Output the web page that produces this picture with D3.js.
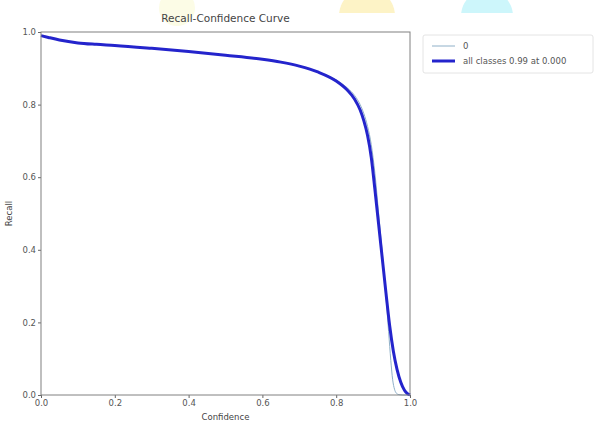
<!DOCTYPE html>
<html><head><meta charset="utf-8">
<script src="https://cdn.jsdelivr.net/npm/d3@7/dist/d3.min.js"></script>
<style>body{margin:0;background:#fff;}svg{display:block;font-family:"DejaVu Sans",sans-serif;}</style>
</head><body>
<script>
const confAll = [0,0.02,0.05,0.1,0.15,0.2,0.3,0.4,0.5,0.6,0.65,0.7,0.75,0.8,0.83,0.85,0.865,0.875,0.885,0.895,0.905,0.915,0.925,0.935,0.945,0.955,0.965,0.975,0.985,0.993,1.0];
const recallAll = [0.99,0.985,0.978,0.97,0.966,0.963,0.955,0.946,0.936,0.925,0.917,0.906,0.89,0.865,0.84,0.815,0.785,0.755,0.715,0.655,0.565,0.47,0.375,0.28,0.19,0.12,0.07,0.035,0.013,0.004,0];
const conf0 = [0,0.02,0.05,0.1,0.15,0.2,0.3,0.4,0.5,0.6,0.65,0.7,0.75,0.8,0.83,0.85,0.865,0.875,0.885,0.895,0.905,0.915,0.925,0.935,0.942,0.948,0.953,0.958,0.963,0.97,0.98,1.0];
const recall0 = [0.99,0.985,0.978,0.97,0.966,0.963,0.955,0.946,0.936,0.925,0.917,0.906,0.89,0.868,0.846,0.825,0.8,0.775,0.74,0.69,0.61,0.5,0.39,0.27,0.175,0.095,0.042,0.016,0.005,0.001,0,0];
const xTicks = [0,0.2,0.4,0.6,0.8,1.0];
const yTicks = [0,0.2,0.4,0.6,0.8,1.0];
const legendLabels = ["0","all classes 0.99 at 0.000"];

const W=595,H=423;
const svg=d3.select("body").append("svg").attr("width",W).attr("height",H);
svg.append("defs").append("clipPath").attr("id","topclip").append("rect").attr("x",0).attr("y",0).attr("width",W).attr("height",13);
svg.append("circle").attr("cx",177).attr("cy",8).attr("r",18).attr("fill","#fcfce6");
svg.append("circle").attr("cx",367).attr("cy",16).attr("r",28).attr("fill","#fdf3c6").attr("clip-path","url(#topclip)");
svg.append("circle").attr("cx",487).attr("cy",16).attr("r",26).attr("fill","#cdf6fb").attr("clip-path","url(#topclip)");

const x=d3.scaleLinear().domain([0,1]).range([41,410]);
const y=d3.scaleLinear().domain([0,1]).range([395,32]);

const tickColor="#666";
const xa=svg.append("g").attr("transform","translate(0,395)").call(d3.axisBottom(x).tickValues(xTicks).tickFormat(d3.format(".1f")).tickSize(3).tickPadding(2));
const ya=svg.append("g").attr("transform","translate(41,0)").call(d3.axisLeft(y).tickValues(yTicks).tickFormat(d3.format(".1f")).tickSize(3).tickPadding(2));
[xa,ya].forEach(a=>{a.select(".domain").remove();a.selectAll("line").attr("stroke",tickColor);a.selectAll("text").attr("fill","#555").attr("font-size",8.5).attr("font-family","DejaVu Sans");});

const line=d3.line().x(d=>x(d[0])).y(d=>y(d[1])).curve(d3.curveMonotoneX);
svg.append("path").datum(conf0.map((c,i)=>[c,recall0[i]])).attr("d",line).attr("fill","none").attr("stroke","#8fb0c8").attr("stroke-width",1);
svg.append("path").datum(confAll.map((c,i)=>[c,recallAll[i]])).attr("d",line).attr("fill","none").attr("stroke","#2424cc").attr("stroke-width",3);

svg.append("rect").attr("x",41).attr("y",32).attr("width",369).attr("height",363).attr("fill","none").attr("stroke","#808080").attr("stroke-width",1);

svg.append("text").attr("x",225.5).attr("y",22).attr("text-anchor","middle").attr("font-size",10.5).attr("fill","#444").text("Recall-Confidence Curve");
svg.append("text").attr("x",225.5).attr("y",420).attr("text-anchor","middle").attr("font-size",8.5).attr("fill","#444").text("Confidence");
svg.append("text").attr("transform","translate(12,213.5) rotate(-90)").attr("text-anchor","middle").attr("font-size",8.5).attr("fill","#444").text("Recall");

const lg=svg.append("g");
lg.append("rect").attr("x",423).attr("y",35).attr("width",170).attr("height",38).attr("rx",2).attr("fill","#fff").attr("stroke","#e4e4e4");
const lcol=["#8fb0c8","#2424cc"],lw=[1,3];
legendLabels.forEach((t,i)=>{
  const yy=46+i*15;
  lg.append("line").attr("x1",432).attr("x2",455).attr("y1",yy).attr("y2",yy).attr("stroke",lcol[i]).attr("stroke-width",lw[i]);
  lg.append("text").attr("x",463).attr("y",yy+3).attr("font-size",8.5).attr("fill","#555").text(t);
});
</script>
</body></html>
